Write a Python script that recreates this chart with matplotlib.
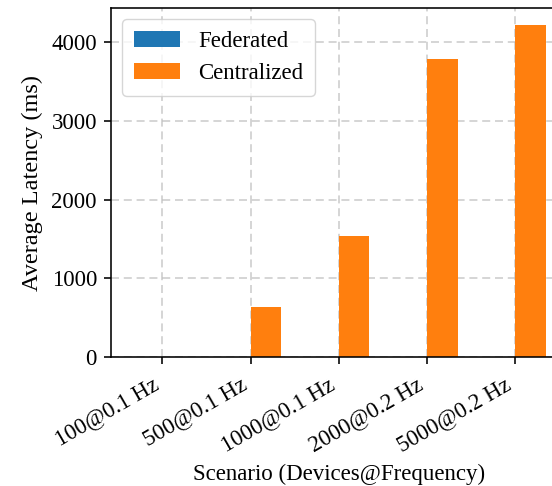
import numpy as np
import matplotlib
matplotlib.use("Agg")
import matplotlib.pyplot as plt

plt.rcParams["font.family"] = ["Liberation Serif", "DejaVu Serif"]
k = 1.44  # stroke / padding scale
plt.rcParams.update({
    "axes.linewidth": 0.8 * k,
    "xtick.major.size": 3.5 * k,
    "ytick.major.size": 3.5 * k,
    "xtick.major.width": 0.8 * k,
    "ytick.major.width": 0.8 * k,
    "xtick.major.pad": 3.5 * k + 2,
    "ytick.major.pad": 3.5 * k,
    "axes.labelpad": 4.0 * k,
})

scenarios = ["100@0.1 Hz", "500@0.1 Hz", "1000@0.1 Hz", "2000@0.2 Hz", "5000@0.2 Hz"]
federated_ms = [1.5, 2.0, 2.5, 3.5, 5.0]
centralized_ms = [2.0, 643, 1540, 3793, 4225]

fs = 16.5
fig = plt.figure(figsize=(5.52, 4.86), dpi=100)
ax = fig.add_axes([0.201, 0.265, 0.825, 0.7185])

x = np.arange(len(scenarios))
width = 0.35
ax.bar(x - width / 2, federated_ms, width, label="Federated", color="#1f77b4")
ax.bar(x + width / 2, centralized_ms, width, label="Centralized", color="#ff7f0e")

ax.set_xticks(x)
ax.set_xticklabels(scenarios, rotation=30, ha="right", fontsize=fs)
ax.tick_params(axis="y", labelsize=fs)
ax.set_yticks([0, 1000, 2000, 3000, 4000])
ax.set_xlabel("Scenario (Devices@Frequency)", fontsize=fs)
ax.set_ylabel("Average Latency (ms)", fontsize=17.5)
ax.grid(True, linestyle=(0, (5, 3)), color="#b8b8b8", alpha=0.7, linewidth=0.8 * k)
ax.set_axisbelow(True)
ax.legend(loc="upper left", fontsize=fs, borderpad=0.5, borderaxespad=0.5)

fig.savefig("out.png", dpi=100)
